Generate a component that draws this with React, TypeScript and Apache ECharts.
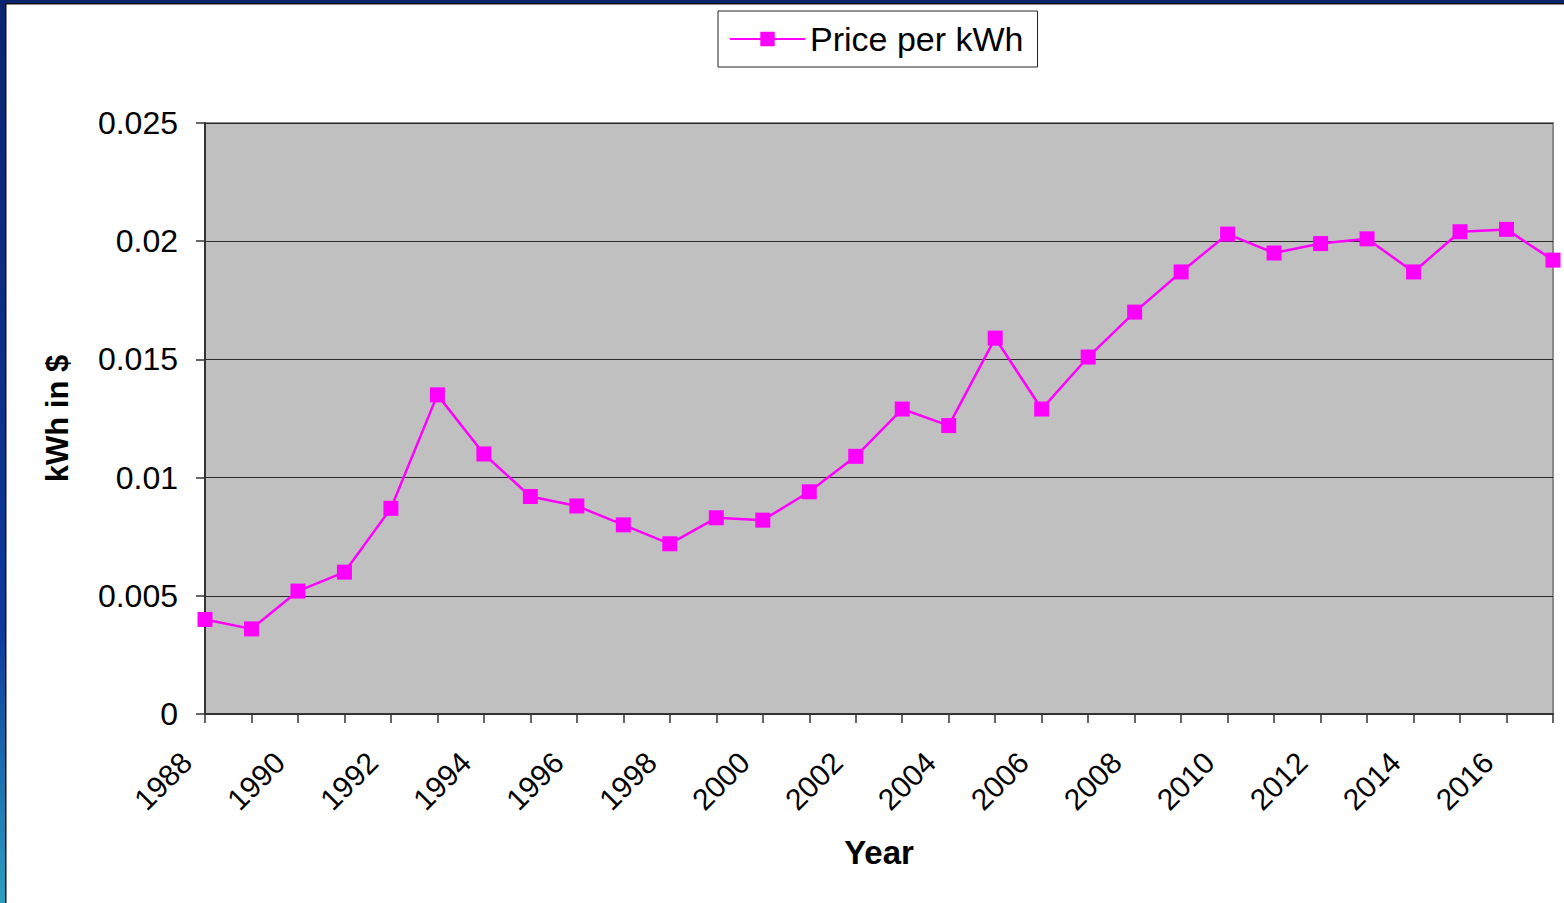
import React, { useEffect, useRef } from "react";
import * as echarts from "echarts";

const years: string[] = [
  "1988", "1989", "1990", "1991", "1992", "1993", "1994", "1995", "1996", "1997",
  "1998", "1999", "2000", "2001", "2002", "2003", "2004", "2005", "2006", "2007",
  "2008", "2009", "2010", "2011", "2012", "2013", "2014", "2015", "2016", "2017",
];

const pricePerKwh: number[] = [
  0.0040, 0.0036, 0.0052, 0.0060, 0.0087, 0.0135, 0.0110, 0.0092, 0.0088, 0.0080,
  0.0072, 0.0083, 0.0082, 0.0094, 0.0109, 0.0129, 0.0122, 0.0159, 0.0129, 0.0151,
  0.0170, 0.0187, 0.0203, 0.0195, 0.0199, 0.0201, 0.0187, 0.0204, 0.0205, 0.0192,
];

const seriesName = "Price per kWh";
const xAxisTitle = "Year";
const yAxisTitle = "kWh in $";

export default function App() {
  const ref = useRef<HTMLDivElement>(null);

  useEffect(() => {
    if (!ref.current) return;
    const chart = echarts.init(ref.current, null, { renderer: "svg" });
    const font = "'Liberation Sans', Arial, sans-serif";
    chart.setOption({
      animation: false,
      backgroundColor: "#ffffff",
      textStyle: { fontFamily: font },
      graphic: [
        {
          type: "rect",
          shape: { x: 0, y: 0, width: 1564, height: 3 },
          style: { fill: "#0a2470" },
          silent: true,
          z: 100,
        },
        {
          type: "rect",
          shape: { x: 0, y: 3, width: 1564, height: 1.5 },
          style: { fill: "#111111" },
          silent: true,
          z: 100,
        },
        {
          type: "rect",
          shape: { x: 0, y: 0, width: 5, height: 903 },
          style: {
            fill: new echarts.graphic.LinearGradient(0, 0, 0, 1, [
              { offset: 0, color: "#0a2470" },
              { offset: 0.7, color: "#0d3a9c" },
              { offset: 1, color: "#2aa0c0" },
            ]),
          },
          silent: true,
          z: 100,
        },
        {
          type: "rect",
          shape: { x: 5, y: 3, width: 1.5, height: 900 },
          style: { fill: "#111111" },
          silent: true,
          z: 100,
        },
      ],
      legend: {
        show: true,
        left: 718,
        top: 11,
        padding: [11, 14, 11, 11],
        itemWidth: 75,
        itemHeight: 18,
        itemGap: 10,
        backgroundColor: "#ffffff",
        borderColor: "#222222",
        borderWidth: 1,
        borderRadius: 0,
        textStyle: { fontSize: 34, color: "#000000", fontFamily: font },
        data: [{ name: seriesName }],
      },
      grid: {
        left: 205,
        right: 11,
        top: 123,
        bottom: 189,
        show: true,
        backgroundColor: "#c0c0c0",
        borderColor: "#8a8a8a",
        borderWidth: 2,
        containLabel: false,
      },
      xAxis: {
        type: "category",
        data: years,
        boundaryGap: false,
        name: xAxisTitle,
        nameLocation: "middle",
        nameGap: 122,
        nameTextStyle: { fontSize: 33, fontWeight: "bold", color: "#000", fontFamily: font },
        axisLine: { show: true, lineStyle: { color: "#333333", width: 2 } },
        axisTick: { show: true, interval: 0, length: 9, lineStyle: { color: "#333333", width: 1.5 } },
        axisLabel: {
          interval: 1,
          rotate: 45,
          fontSize: 30,
          color: "#000",
          margin: 25,
          padding: [0, 26, 0, 0],
          fontFamily: font,
        },
        splitLine: { show: false },
      },
      yAxis: {
        type: "value",
        min: 0,
        max: 0.025,
        interval: 0.005,
        name: yAxisTitle,
        nameLocation: "middle",
        nameGap: 132,
        nameTextStyle: { fontSize: 31, fontWeight: "bold", color: "#000", fontFamily: font },
        axisLine: { show: true, lineStyle: { color: "#333333", width: 2 } },
        axisTick: { show: true, length: 9, lineStyle: { color: "#333333", width: 1.5 } },
        axisLabel: {
          fontSize: 32,
          color: "#000",
          margin: 27,
          fontFamily: font,
          formatter: (v: number) => (v === 0 ? "0" : String(parseFloat(v.toFixed(3)))),
        },
        splitLine: { show: true, lineStyle: { color: "#2a2a2a", width: 1.2 } },
      },
      series: [
        {
          name: seriesName,
          type: "line",
          data: pricePerKwh,
          symbol: "rect",
          symbolSize: 15,
          showAllSymbol: true,
          clip: false,
          lineStyle: { color: "#ff00ff", width: 2.5 },
          itemStyle: { color: "#ff00ff", borderWidth: 0 },
        },
      ],
    });
    return () => chart.dispose();
  }, []);

  return (
    <div
      ref={ref}
      style={{ position: "fixed", left: 0, top: 0, width: 1564, height: 903, background: "#fff" }}
    />
  );
}
